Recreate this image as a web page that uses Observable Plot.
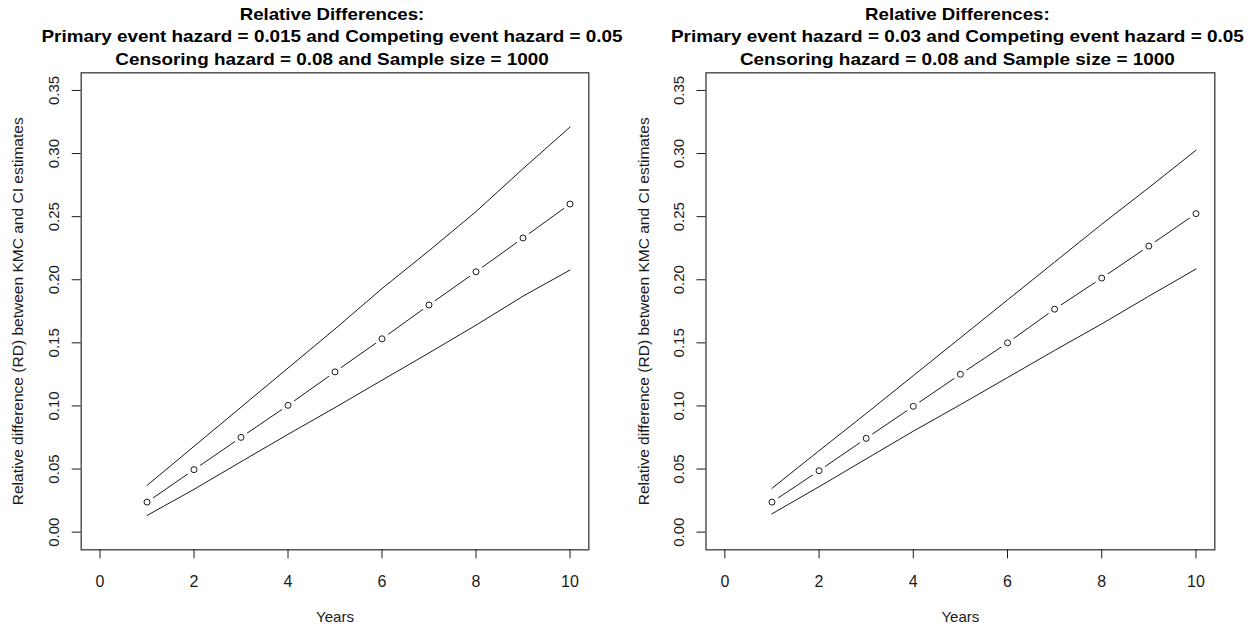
<!DOCTYPE html>
<html>
<head>
<meta charset="utf-8">
<script src="https://cdn.jsdelivr.net/npm/d3@7"></script>
<script src="https://cdn.jsdelivr.net/npm/@observablehq/plot@0.6"></script>
<style>
  html, body { margin: 0; padding: 0; background: #fff; }
  #wrap { display: flex; flex-direction: row; width: 1253px; height: 630px; }
  svg { display: block; }
</style>
</head>
<body>
<div id="wrap"></div>
<script>
// ---- data ----
const years = [1, 2, 3, 4, 5, 6, 7, 8, 9, 10];

const rdMidA   = [0.0238, 0.0495, 0.0751, 0.1005, 0.1270, 0.1532, 0.1800, 0.2063, 0.2331, 0.2600];
const rdUpperA = [0.0370, 0.0680, 0.0990, 0.1300, 0.1610, 0.1930, 0.2230, 0.2540, 0.2880, 0.3210];
const rdLowerA = [0.0132, 0.0339, 0.0558, 0.0775, 0.0987, 0.1204, 0.1420, 0.1640, 0.1870, 0.2077];

const rdMidB   = [0.0238, 0.0487, 0.0743, 0.0997, 0.1251, 0.1500, 0.1767, 0.2013, 0.2267, 0.2524];
const rdUpperB = [0.0347, 0.0645, 0.0940, 0.1240, 0.1540, 0.1840, 0.2140, 0.2440, 0.2730, 0.3026];
const rdLowerB = [0.0145, 0.0360, 0.0580, 0.0800, 0.1010, 0.1225, 0.1440, 0.1650, 0.1870, 0.2085];

const xTicks = [0, 2, 4, 6, 8, 10];
const yTicks = [0, 0.05, 0.10, 0.15, 0.20, 0.25, 0.30, 0.35];

const titlesA = [
  "Relative Differences:",
  "Primary event hazard = 0.015 and Competing event hazard = 0.05",
  "Censoring hazard = 0.08 and Sample size = 1000"
];
const titlesB = [
  "Relative Differences:",
  "Primary event hazard = 0.03 and Competing event hazard = 0.05",
  "Censoring hazard = 0.08 and Sample size = 1000"
];
const xLabel = "Years";
const yLabel = "Relative difference (RD) between KMC and CI estimates";

// ---- drawing ----
const INK = "#1a1a1a";
const FONT = "'Liberation Sans', Arial, Helvetica, sans-serif";

function series(vals) { return years.map((t, i) => ({t, v: vals[i]})); }

function fitText(svg, content, width) {
  d3.select(svg).selectAll("text")
    .filter(function () { return this.textContent === content; })
    .attr("textLength", width)
    .attr("lengthAdjust", "spacingAndGlyphs");
}

function panel(cfg) {
  const mid = series(cfg.mid), up = series(cfg.upper), lo = series(cfg.lower);
  const titleDy = [-53.3, -30.6, -8.3];
  const svg = Plot.plot({
    width: cfg.width,
    height: 630,
    marginLeft: cfg.ml,
    marginRight: cfg.mr,
    marginTop: 72.3,
    marginBottom: 80.7,
    style: {fontFamily: FONT, background: "#fff", color: INK},
    x: {domain: [-0.4, 10.4]},
    y: {domain: [-0.014, 0.364]},
    marks: [
      Plot.line(mid, {x: "t", y: "v", stroke: INK, strokeWidth: 1}),
      Plot.dot(mid, {x: "t", y: "v", r: 7.5, fill: "#fff", stroke: "none"}),
      Plot.dot(mid, {x: "t", y: "v", r: 3, fill: "none", stroke: INK, strokeWidth: 1}),
      Plot.line(up, {x: "t", y: "v", stroke: INK, strokeWidth: 1}),
      Plot.line(lo, {x: "t", y: "v", stroke: INK, strokeWidth: 1}),
      Plot.frame({stroke: "#4a4a4a", strokeWidth: 1.4}),
      Plot.axisX({ticks: xTicks, tickSize: 9, tickPadding: 16.5, fontSize: 16, label: null, stroke: INK}),
      Plot.axisY({ticks: yTicks, tickSize: 9, tickPadding: 13, tickRotate: -90, fontSize: 15,
                  tickFormat: d3.format(".2f"), label: null, stroke: INK}),
      Plot.text([xLabel], {frameAnchor: "bottom", text: d => d, dy: 72.4, lineAnchor: "bottom",
                           fontSize: 15, fill: INK}),
      Plot.text([yLabel], {frameAnchor: "left", text: d => d, rotate: -90, dx: cfg.ydx,
                           textAnchor: "middle", lineAnchor: "bottom", fontSize: 15, fill: INK}),
      ...cfg.titles.map((t, i) => Plot.text([t], {frameAnchor: "top", text: d => d, dx: -3, dy: titleDy[i],
                           lineAnchor: "bottom", fontSize: 17, fontWeight: "bold", fill: "#000"}))
    ]
  });
  cfg.titles.forEach((t, i) => fitText(svg, t, cfg.titleW[i]));
  fitText(svg, yLabel, 388);
  fitText(svg, xLabel, 38);
  return svg;
}

const wrap = document.getElementById("wrap");
wrap.appendChild(panel({
  width: 626, ml: 80.7, mr: 37.7, ydx: -57.7,
  mid: rdMidA, upper: rdUpperA, lower: rdLowerA,
  titles: titlesA, titleW: [184.6, 581, 433.4]
}));
wrap.appendChild(panel({
  width: 627, ml: 79.5, mr: 38.7, ydx: -57.5,
  mid: rdMidB, upper: rdUpperB, lower: rdLowerB,
  titles: titlesB, titleW: [184.6, 573, 435]
}));
</script>
</body>
</html>
